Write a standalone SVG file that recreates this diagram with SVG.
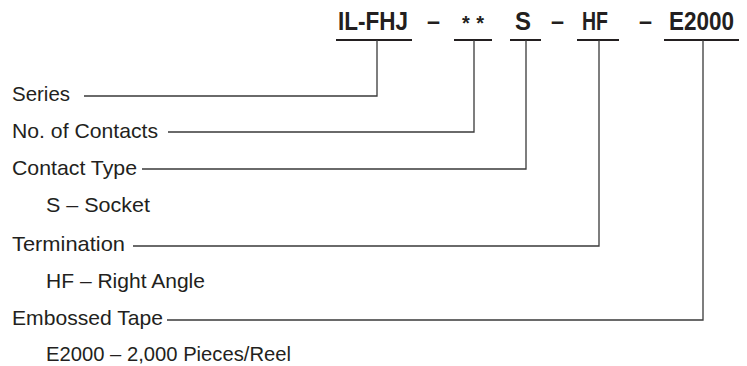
<svg xmlns="http://www.w3.org/2000/svg" width="747" height="366" viewBox="0 0 747 366">
<style>
.code{font-family:"Liberation Sans",Arial,sans-serif;font-weight:bold;font-size:25px;fill:#231f20}
.lbl{font-family:"Liberation Sans",Arial,sans-serif;font-size:21px;fill:#231f20}
.ul{stroke:#231f20;stroke-width:2;fill:none}
.con{stroke:#3a3a3a;stroke-width:1.3;fill:none}
</style>
<rect width="747" height="366" fill="#ffffff"/>
<g id="code">
<text class="code" x="338" y="30" textLength="70" lengthAdjust="spacingAndGlyphs">IL-FHJ</text>
<text class="code" x="427" y="30" textLength="13" lengthAdjust="spacingAndGlyphs">–</text>
<text class="code" x="462" y="30" textLength="22" lengthAdjust="spacing" style="font-size:20px">**</text>
<text class="code" x="515" y="30" textLength="16" lengthAdjust="spacingAndGlyphs">S</text>
<text class="code" x="551" y="30" textLength="13" lengthAdjust="spacingAndGlyphs">–</text>
<text class="code" x="582" y="30" textLength="26" lengthAdjust="spacingAndGlyphs">HF</text>
<text class="code" x="639" y="30" textLength="13" lengthAdjust="spacingAndGlyphs">–</text>
<text class="code" x="669" y="30" textLength="65" lengthAdjust="spacingAndGlyphs">E2000</text>
<line class="ul" x1="336" y1="40" x2="412" y2="40"/>
<line class="ul" x1="454" y1="40" x2="492" y2="40"/>
<line class="ul" x1="510" y1="40" x2="541" y2="40"/>
<line class="ul" x1="577" y1="40" x2="619" y2="40"/>
<line class="ul" x1="664" y1="40" x2="739" y2="40"/>
</g>
<g id="series"><text class="lbl" x="12" y="101" textLength="58" lengthAdjust="spacingAndGlyphs">Series</text></g>
<g id="contacts"><text class="lbl" x="12" y="138" textLength="146" lengthAdjust="spacingAndGlyphs">No. of Contacts</text></g>
<g id="contact-type">
<text class="lbl" x="12" y="175" textLength="125" lengthAdjust="spacingAndGlyphs">Contact Type</text>
<text class="lbl" x="46" y="212" textLength="104" lengthAdjust="spacingAndGlyphs">S – Socket</text>
</g>
<g id="termination">
<text class="lbl" x="12" y="251" textLength="113" lengthAdjust="spacingAndGlyphs">Termination</text>
<text class="lbl" x="46" y="288" textLength="159" lengthAdjust="spacingAndGlyphs">HF – Right Angle</text>
</g>
<g id="packaging">
<text class="lbl" x="12" y="325" textLength="151" lengthAdjust="spacingAndGlyphs">Embossed Tape</text>
<text class="lbl" x="46" y="361" textLength="245" lengthAdjust="spacingAndGlyphs">E2000 – 2,000 Pieces/Reel</text>
</g>
<g id="connectors">
<polyline class="con" points="84,96 377,96 377,40"/>
<polyline class="con" points="168,132 474,132 474,40"/>
<polyline class="con" points="142,169 526,169 526,40"/>
<polyline class="con" points="133,246 599,246 599,40"/>
<polyline class="con" points="167,320 703,320 703,40"/>
</g>
</svg>
